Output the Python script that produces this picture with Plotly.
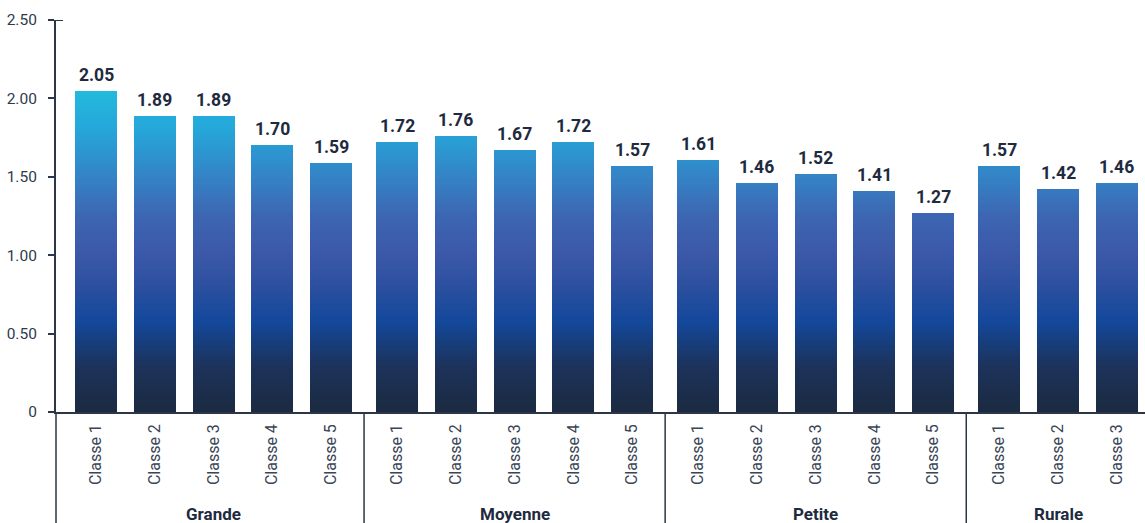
import numpy as np
import plotly.graph_objects as go

# ---- data ----
groups = ["Grande", "Moyenne", "Petite", "Rurale"]
grande_classes = ["Classe 1", "Classe 2", "Classe 3", "Classe 4", "Classe 5"]
moyenne_classes = ["Classe 1", "Classe 2", "Classe 3", "Classe 4", "Classe 5"]
petite_classes = ["Classe 1", "Classe 2", "Classe 3", "Classe 4", "Classe 5"]
rurale_classes = ["Classe 1", "Classe 2", "Classe 3"]
grande_values = [2.05, 1.89, 1.89, 1.70, 1.59]
moyenne_values = [1.72, 1.76, 1.67, 1.72, 1.57]
petite_values = [1.61, 1.46, 1.52, 1.41, 1.27]
rurale_values = [1.57, 1.42, 1.46]
y_tick_vals = [0, 0.5, 1.0, 1.5, 2.0, 2.5]
y_tick_text = ["0", "0.50", "1.00", "1.50", "2.00", "2.50"]

group_classes = [grande_classes, moyenne_classes, petite_classes, rurale_classes]
group_values = [grande_values, moyenne_values, petite_values, rurale_values]

# ---- positions (numeric x with a small gap between groups) ----
GAP = 0.125
xs, labels, vals, group_centers, dividers = [], [], [], [], []
idx = 0
for gi, (cls, vv) in enumerate(zip(group_classes, group_values)):
    gx = []
    for c, v in zip(cls, vv):
        p = idx + gi * GAP
        xs.append(p); labels.append(c); vals.append(v); gx.append(p)
        idx += 1
    group_centers.append(np.mean(gx))
    if gi > 0:
        dividers.append(gx[0] - (1 + GAP) / 2)
xs = np.array(xs); vals = np.array(vals)

# ---- vertical gradient (by absolute value) ----
stops = [
    (0.00, "#1b2a3f"),
    (0.30, "#1c335c"),
    (0.58, "#13489b"),
    (0.80, "#2c4f9f"),
    (1.00, "#3b58a8"),
    (1.25, "#3d66b2"),
    (1.50, "#3483c6"),
    (1.80, "#25a6da"),
    (2.10, "#22bedd"),
]
def hex2rgb(h):
    h = h.lstrip("#"); return np.array([int(h[i:i+2], 16) for i in (0, 2, 4)], float)
sv = np.array([s[0] for s in stops]); sc = np.array([hex2rgb(s[1]) for s in stops])
def color_at(v):
    rgb = [np.interp(v, sv, sc[:, k]) for k in range(3)]
    return "rgb(%d,%d,%d)" % tuple(int(round(c)) for c in rgb)

fig = go.Figure()
step = 0.015
levels = np.arange(step, vals.max() + step, step)[::-1]
for L in levels:
    heights = [min(v, L) if v > L - step else None for v in vals]
    fig.add_trace(go.Bar(
        x=xs, y=heights, width=0.715,
        marker=dict(color=color_at(L - step / 2), line=dict(width=0)),
        hoverinfo="skip", showlegend=False,
    ))

dark = "#1e2a3e"
axis_col = "#2b3648"
FONT = "Roboto"

annotations = []
for x, v in zip(xs, vals):
    annotations.append(dict(x=x, y=v, xref="x", yref="y", text=f"{v:.2f}",
                            showarrow=False, yanchor="bottom", yshift=4,
                            font=dict(family=FONT, size=17.5, color=dark, weight="bold")))
plot_h = 523 - 20 - 111
for g, cx in zip(groups, group_centers):
    annotations.append(dict(x=cx, y=(412 - 514) / plot_h, xref="x", yref="paper", text=g,
                            showarrow=False, yanchor="middle",
                            font=dict(family=FONT, size=17, color=dark, weight="bold")))

ybot = -111 / plot_h
shapes = [dict(type="line", xref="paper", yref="paper", x0=0, x1=0, y0=0, y1=ybot,
               line=dict(color=axis_col, width=1.5))]
for d in dividers:
    shapes.append(dict(type="line", xref="x", yref="paper", x0=d, x1=d, y0=0, y1=ybot,
                       line=dict(color=axis_col, width=1.5)))
shapes.append(dict(type="line", xref="paper", yref="y", x0=0, x1=7 / 1089, y0=2.5, y1=2.5,
                   line=dict(color=axis_col, width=2)))

fig.update_layout(
    width=1145, height=523,
    margin=dict(l=56, r=0, t=20, b=111, autoexpand=False),
    paper_bgcolor="white", plot_bgcolor="white",
    barmode="overlay", bargap=0,
    font=dict(family=FONT, color="#2e3a4c"),
    annotations=annotations, shapes=shapes,
    xaxis=dict(range=[xs[0] - 0.681, xs[0] + 17.855], tickvals=xs, ticktext=labels,
               tickangle=-90, ticks="", showgrid=False, zeroline=False,
               showline=True, linecolor=axis_col, linewidth=1.5,
               ticklabelstandoff=4, automargin=False,
               tickfont=dict(family=FONT, size=16, color="#3a4556")),
    yaxis=dict(range=[0, 2.5], tickvals=y_tick_vals, ticktext=y_tick_text,
               ticks="outside", ticklen=6, tickcolor=axis_col, tickwidth=1.5,
               showline=True, linecolor=axis_col, linewidth=2,
               showgrid=False, zeroline=False, ticklabelstandoff=8, automargin=False,
               tickfont=dict(family=FONT, size=15.5, color="#2e3a4c")),
)

fig.write_html("out.html", config={"displayModeBar": False},
               post_script="document.body.style.margin='0';document.body.style.overflow='hidden';")
